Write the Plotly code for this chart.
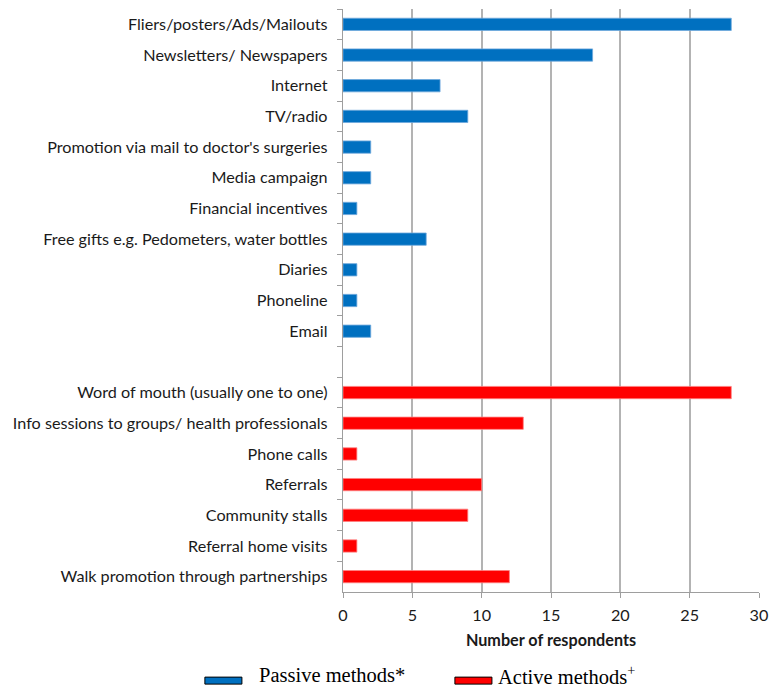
import plotly.graph_objects as go

passive_labels = ["Fliers/posters/Ads/Mailouts", "Newsletters/ Newspapers", "Internet", "TV/radio",
                  "Promotion via mail to doctor's surgeries", "Media campaign", "Financial incentives",
                  "Free gifts e.g. Pedometers, water bottles", "Diaries", "Phoneline", "Email"]
passive_values = [28, 18, 7, 9, 2, 2, 1, 6, 1, 1, 2]

active_labels = ["Word of mouth (usually one to one)", "Info sessions to groups/ health professionals",
                 "Phone calls", "Referrals", "Community stalls", "Referral home visits",
                 "Walk promotion through partnerships"]
active_values = [28, 13, 1, 10, 9, 1, 12]

gap_label = " "
category_order = passive_labels + [gap_label] + active_labels
x_ticks = [0, 5, 10, 15, 20, 25, 30]

BLUE = "#0070C0"
RED = "#FF0000"
FONT_FAMILY = "Lato, 'Open Sans', sans-serif"
TICK_FONT = dict(family=FONT_FAMILY, size=16.2, color="#1a1a1a")

fig = go.Figure()
fig.add_trace(go.Bar(y=passive_labels, x=passive_values, orientation="h", name="Passive methods*",
                     width=0.4, marker=dict(color=BLUE, line=dict(color="#6fa8dc", width=0.8)),
                     showlegend=False))
fig.add_trace(go.Bar(y=active_labels, x=active_values, orientation="h", name="Active methods+",
                     width=0.4, marker=dict(color=RED, line=dict(color="#ff8080", width=0.8)),
                     showlegend=False))

fig.update_layout(
    width=771, height=687,
    margin=dict(l=343, r=12, t=9, b=95, autoexpand=False),
    paper_bgcolor="white", plot_bgcolor="white",
    barmode="overlay",
    xaxis=dict(range=[0, 30], tickvals=x_ticks, showgrid=True, gridcolor="#B3B3B3", gridwidth=1.6,
               showline=True, linecolor="#9e9e9e", linewidth=1.4, ticks="outside", ticklen=5,
               tickcolor="#9e9e9e", tickfont=TICK_FONT, zeroline=False, ticklabelstandoff=3,
               automargin=False,
               title=dict(text="<b>Number of respondents</b>", standoff=12,
                          font=dict(family=FONT_FAMILY, size=16.2, color="#1a1a1a"))),
    yaxis=dict(type="category", categoryorder="array", categoryarray=category_order,
               autorange="reversed", tickson="boundaries", ticks="outside", ticklen=5,
               tickcolor="#9e9e9e", showline=True, linecolor="#9e9e9e", linewidth=1.4,
               showgrid=False, tickfont=TICK_FONT, ticklabelstandoff=11, automargin=False),
)

# custom legend
legend_items = [("Passive methods*", BLUE, -0.332, -0.243, -0.207),
                ("Active methods<sup>+</sup>", RED, 0.269, 0.358, 0.368)]
for text, color, x0, x1, xt in legend_items:
    fig.add_shape(type="rect", xref="paper", yref="paper", x0=x0, x1=x1, y0=-0.158, y1=-0.146,
                  fillcolor=color, line=dict(color="black", width=1))
    fig.add_annotation(xref="paper", yref="paper", x=xt, y=-0.143, text=text, showarrow=False,
                       xanchor="left", yanchor="middle",
                       font=dict(family="'Liberation Serif', 'Times New Roman', serif", size=20.5, color="black"))

fig.write_html("out.html")
